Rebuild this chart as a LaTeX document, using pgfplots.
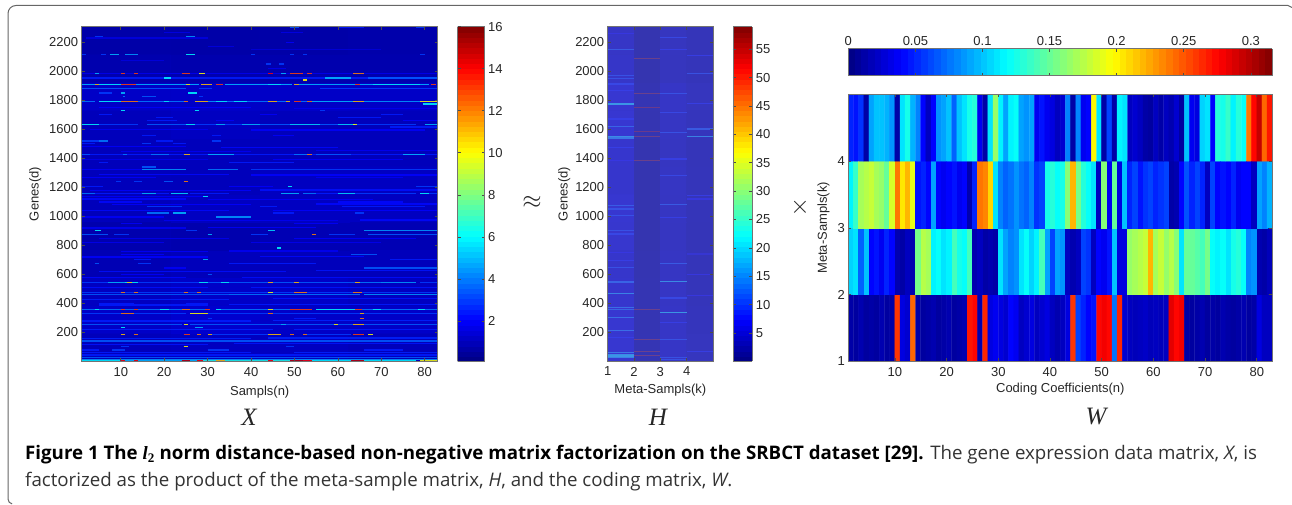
\documentclass[border=0pt]{standalone}
\usepackage{pgfplots}
\usepackage{fontspec}
\pgfplotsset{compat=1.18}
\setmainfont{Liberation Sans}
\newfontfamily\capfont{Open Sans}
\newfontfamily\serifit{Liberation Serif}
\pgfplotsset{
  colormap={fadedjet}{rgb(0cm)=(.2,.2,.56) rgb(1cm)=(.22,.22,.92) rgb(3cm)=(.25,.92,.92) rgb(5cm)=(.92,.92,.2) rgb(7cm)=(.92,.2,.2) rgb(8cm)=(.56,.2,.2)},
  every axis/.append style={
    /pgf/number format/assume math mode=true,
    /pgf/number format/1000 sep={},
    tick label style={font=\fontsize{13}{15}\selectfont,text=black!85},
    label style={font=\fontsize{13}{15}\selectfont,text=black!85},
    axis line style={draw=black!55,line width=.7pt},
    tick style={draw=black!70,line width=.6pt},
    tick align=inside, major tick length=3pt,
    xtick pos=both, ytick pos=both,
  },
  heat/.style={scale only axis,axis on top,
    colorbar shift/.style={xshift=19.5pt},
    xticklabel style={yshift=-2pt},
    yticklabel style={xshift=0pt}},
}
\begin{document}
\begin{tikzpicture}
\path[use as bounding box] (0pt,0pt) rectangle (1292pt,505pt);
\draw[black!60,line width=1pt] (1292pt,497.5pt) -- (1288pt,499.5pt) -- (16pt,499.5pt) arc[start angle=90,end angle=180,radius=8pt] -- (8pt,6pt) arc[start angle=180,end angle=260,radius=5pt];

%%%%%%%% X
\begin{axis}[heat,at={(81.7pt,143.6pt)},anchor=south west,width=356pt,height=334.8pt,
  colormap/jet,
  axis background/.style={fill={rgb,1:red,0;green,0;blue,.77}},
  xmin=1,xmax=83,ymin=1,ymax=2308,
  xtick={10,20,...,80},ytick={200,400,...,2200},
  xlabel shift=3pt,ylabel shift=1pt,
  xlabel={Sampls(n)},ylabel={Genes(d)},
  point meta min=0.08,point meta max=16,
  colorbar sampled,
  colorbar style={width=27pt,samples=65,ytick={2,4,...,16}},
]
\addplot[matrix plot*,mesh/cols=4,point meta=explicit] coordinates {
(11.25,97.1)[1.0](31.75,97.1)[1.1](52.25,97.1)[1.1](72.75,97.1)[1.0]
(11.25,289.4)[1.2](31.75,289.4)[1.3](52.25,289.4)[1.2](72.75,289.4)[1.2]
(11.25,481.6)[1.1](31.75,481.6)[1.2](52.25,481.6)[1.2](72.75,481.6)[1.1]
(11.25,673.9)[.9](31.75,673.9)[1.0](52.25,673.9)[1.0](72.75,673.9)[1.0]
(11.25,866.1)[.8](31.75,866.1)[.8](52.25,866.1)[.9](72.75,866.1)[.9]
(11.25,1058.4)[1.0](31.75,1058.4)[1.1](52.25,1058.4)[1.1](72.75,1058.4)[1.1]
(11.25,1250.6)[1.0](31.75,1250.6)[1.0](52.25,1250.6)[1.1](72.75,1250.6)[1.1]
(11.25,1442.9)[1.0](31.75,1442.9)[1.0](52.25,1442.9)[1.0](72.75,1442.9)[1.0]
(11.25,1635.1)[1.0](31.75,1635.1)[1.1](52.25,1635.1)[1.0](72.75,1635.1)[1.0]
(11.25,1827.4)[1.2](31.75,1827.4)[1.2](52.25,1827.4)[1.2](72.75,1827.4)[1.2]
(11.25,2019.6)[.8](31.75,2019.6)[.8](52.25,2019.6)[.8](72.75,2019.6)[.8]
(11.25,2211.9)[.7](31.75,2211.9)[.7](52.25,2211.9)[.7](72.75,2211.9)[.75]
};
\addplot[patch,patch type=line,shader=flat,line width=1.2pt,point meta=explicit,opacity=.85] coordinates {
(2,2230)[1.6](30,2230)[1.6] (40,2150)[1.5](70,2150)[1.5]
(5,1750)[2](40,1750)[2] (50,1745)[1.8](83,1745)[1.8]
(3,1600)[1.9](30,1600)[1.9] (40,1595)[2](80,1595)[2]
(1,1480)[2](25,1480)[2] (33,1475)[2.2](60,1475)[2.2]
(10,1450)[1.9](40,1450)[1.9] (55,1455)[1.9](83,1455)[1.9]
(1,1390)[1.8](30,1390)[1.8] (45,1392)[2](75,1392)[2]
(5,1290)[2.2](35,1290)[2.2] (40,1285)[2.1](83,1285)[2.1]
(1,1270)[2](18,1270)[2] (55,1268)[1.9](75,1268)[1.9]
(3,1180)[2.1](40,1180)[2.1] (42,1182)[2.3](83,1182)[2.3]
(1,1120)[2.2](25,1120)[2.2] (30,1118)[2](68,1118)[2]
(8,1080)[2.1](40,1080)[2.1] (55,1085)[2.2](83,1085)[2.2]
(1,1040)[2.2](35,1040)[2.2] (45,1042)[2.1](83,1042)[2.1]
(20,970)[1.9](60,970)[1.9] (65,975)[2.2](83,975)[2.2]
(1,920)[1.9](25,920)[1.9] (30,925)[2](55,925)[2]
(5,850)[1.8](35,850)[1.8] (50,848)[2](78,848)[2]
(1,820)[1.8](20,820)[1.8] (40,820)[1.8](70,820)[1.8]
(10,760)[2](30,760)[2] (35,762)[1.9](60,762)[1.9]
(1,720)[2.1](30,720)[2.1] (42,722)[2.2](66,722)[2.2]
(5,620)[2.3](48,620)[2.3] (55,625)[2.4](83,625)[2.4]
(1,580)[2.2](25,580)[2.2] (38,580)[2.3](83,580)[2.3]
(1,510)[2.3](30,510)[2.3] (40,512)[2.4](83,512)[2.4]
(1,430)[2.6](35,430)[2.6] (45,432)[2.4](83,432)[2.4]
(5,390)[2.5](30,390)[2.5] (35,392)[2.5](83,392)[2.5]
(1,280)[2.5](40,280)[2.5] (45,282)[2.6](83,282)[2.6]
(1,220)[2.6](45,220)[2.6] (50,222)[2.5](83,222)[2.5]
(1,160)[2.6](40,160)[2.6] (44,162)[2.6](83,162)[2.6]
(1,120)[2.4](30,120)[2.4] (36,122)[2.4](83,122)[2.4]
(1,60)[2.5](40,60)[2.5] (50,62)[2.6](83,62)[2.6]
(49,2305)[3.5](51,2305)[3.5] (60,2305)[2.5](66,2305)[2.5] (78,2305)[3](80,2305)[3]
(20,2270)[1.7](26,2270)[1.7] (47,2270)[1.7](52,2270)[1.7]
(4,2241)[3](6,2241)[3] (25,2241)[4.5](27,2241)[4.5]
(48,2200)[2](50,2200)[2] (30,2170)[1.6](36,2170)[1.6]
(1,2115)[3](2,2115)[3] (5.5,2115)[3](6.5,2115)[3] (7.5,2115)[5](9.5,2115)[5] (11,2115)[4.5](14,2115)[4.5] (25,2115)[6](27,2115)[6] (40,2115)[3](41,2115)[3] (49,2115)[3](50,2115)[3] (52,2115)[3](53,2115)[3] (79,2115)[3](80,2115)[3]
(10,2075)[1.6](20,2075)[1.6] (43.5,2050)[3](44.5,2050)[3] (46.5,2050)[3](47.5,2050)[3] (44,2020)[1.8](48,2020)[1.8]
(1,1985)[1.8](83,1985)[1.8] (4,1985)[5](5,1985)[5] (10,1985)[13](11,1985)[13] (13,1985)[13](14,1985)[13] (24,1985)[13](26,1985)[13] (28,1985)[10](29.5,1985)[10] (44,1985)[14](45,1985)[14] (47,1985)[5](48,1985)[5] (49,1985)[13](52,1985)[13] (53,1985)[13](54,1985)[13] (63.5,1985)[12](66,1985)[12]
(1,1954)[2.5](83,1954)[2.5] (20,1954)[6](21.5,1954)[6] (57,1954)[5](63,1954)[5] (67,1954)[3.5](83,1954)[3.5]
(52,1940)[10](53,1940)[10]
(1,1910)[5](4,1910)[5] (4,1910)[11](5,1910)[11] (5,1910)[6](10,1910)[6] (10,1910)[13](13.6,1910)[13] (13.6,1910)[5](25,1910)[5] (25,1910)[10](26,1910)[10] (26,1910)[5](28,1910)[5] (28.5,1910)[11](31,1910)[11] (32,1910)[13](33.5,1910)[13] (34,1910)[5](44,1910)[5] (44,1910)[6](47,1910)[6] (47,1910)[5](49.5,1910)[5] (50,1910)[11](51,1910)[11] (51,1910)[5](64,1910)[5] (64,1910)[13](65,1910)[13] (65,1910)[5](68,1910)[5] (68,1910)[6](75,1910)[6] (75,1910)[6](79,1910)[6] (79,1910)[5](81,1910)[5] (81.5,1910)[13](82.5,1910)[13]
(1,1881)[3.5](25,1881)[3.5] (28,1881)[3](31,1881)[3] (56,1881)[3](83,1881)[3]
(5,1850)[3](8,1850)[3] (10,1850)[5](11,1850)[5] (25.5,1850)[6](27.5,1850)[6]
(10.5,1827)[4](11,1827)[4] (15,1827)[3.5](18,1827)[3.5] (28,1827)[3](29,1827)[3]
(1,1793)[4](4,1793)[4] (5,1793)[6](10,1793)[6] (10,1793)[12](14,1793)[12] (14,1793)[4](20,1793)[4] (20,1793)[6](21,1793)[6] (21,1793)[4](24.5,1793)[4] (24.5,1793)[12](25.5,1793)[12] (27,1793)[11](30,1793)[11] (30,1793)[4.5](32,1793)[4.5] (32,1793)[6](34.5,1793)[6] (34.5,1793)[4](36,1793)[4] (36,1793)[6](39,1793)[6] (39,1793)[4](44,1793)[4] (44,1793)[11](46,1793)[11] (46,1793)[4](48,1793)[4] (48,1793)[11](49,1793)[11] (50,1793)[13](51.5,1793)[13] (51.5,1793)[4](53,1793)[4] (53,1793)[12](54,1793)[12] (54,1793)[5](63.5,1793)[5] (63.5,1793)[11](66,1793)[11] (66,1793)[4.5](79,1793)[4.5] (79,1793)[10](83,1793)[10]
(79.5,1775)[6](83,1775)[6] (10,1730)[6](11,1730)[6] (27,1730)[6](28,1730)[6] (56,1730)[3](57,1730)[3]
(5,1700)[2.5](8,1700)[2.5] (42,1700)[2](46,1700)[2] (70,1700)[2.5](75,1700)[2.5]
(18,1680)[2.5](22,1680)[2.5] (60,1680)[2.5](70,1680)[2.5]
(16,1660)[2.5](23,1660)[2.5] (32,1660)[2](36,1660)[2] (75,1660)[2](83,1660)[2]
(1,1632)[6](5,1632)[6] (5,1632)[3](14,1632)[3] (16,1632)[3.5](25,1632)[3.5] (25,1632)[6](27,1632)[6] (27,1632)[3](32,1632)[3] (32,1632)[5](34,1632)[5] (34,1632)[3](38,1632)[3] (38,1632)[5](42,1632)[5] (42,1632)[3.5](49,1632)[3.5] (49,1632)[5.5](56,1632)[5.5] (56,1632)[3.5](60,1632)[3.5] (60,1632)[5.5](64,1632)[5.5] (63.5,1632)[10](64.5,1632)[10] (64.5,1632)[3](78,1632)[3] (80,1632)[5](83,1632)[5]
(72,1616)[2.5](83,1616)[2.5]
(15,1560)[2.5](18,1560)[2.5] (31,1560)[2.5](33,1560)[2.5] (45,1560)[2](50,1560)[2]
(1,1520)[3](5,1520)[3] (5,1520)[4](7,1520)[4] (18,1520)[2.5](22,1520)[2.5] (31,1520)[3](33,1520)[3]
(1,1500)[2.5](4,1500)[2.5] (15,1500)[3](17,1500)[3] (22,1500)[2.5](25,1500)[2.5]
(1,1425)[2.5](83,1425)[2.5] (1,1425)[3.5](3,1425)[3.5] (10.5,1425)[4](11.5,1425)[4] (17,1425)[4](21,1425)[4] (24.5,1425)[11](26,1425)[11] (30,1425)[5](36,1425)[5] (50,1425)[4](53,1425)[4] (53,1425)[12](54,1425)[12] (55,1425)[3.5](63,1425)[3.5] (75,1425)[5](80,1425)[5]
(5,1370)[2.5](7,1370)[2.5] (35,1370)[2.5](50,1370)[2.5] (15,1340)[3.5](18,1340)[3.5]
(1,1321)[2](15,1321)[2] (15,1321)[4.5](25,1321)[4.5] (30,1321)[4](37,1321)[4] (40,1321)[3](83,1321)[3]
(9,1241)[3](10,1241)[3] (13,1241)[3](15,1241)[3] (20,1241)[3.5](22,1241)[3.5] (24.5,1241)[12](25.5,1241)[12]
(1,1206)[2.5](6,1206)[2.5] (35,1206)[2](45,1206)[2] (48.5,1206)[6](49.5,1206)[6] (78,1206)[3](83,1206)[3]
(1,1160)[4](4,1160)[4] (4,1160)[2.5](15,1160)[2.5] (15,1160)[5](18,1160)[5] (18,1160)[2.5](21,1160)[2.5] (21.5,1160)[5.5](25.5,1160)[5.5] (26,1160)[2.5](35,1160)[2.5] (47,1160)[5](51,1160)[5] (52,1160)[4](55,1160)[4] (55,1160)[2.5](60,1160)[2.5] (60,1160)[5.5](64,1160)[5.5] (64,1160)[3](78,1160)[3] (79,1160)[6](81,1160)[6] (81,1160)[3](83,1160)[3]
(1,1135)[2](29,1135)[2] (29,1135)[6](30,1135)[6]
(5,1100)[2.2](15,1100)[2.2] (60,1100)[2.2](75,1100)[2.2]
(16,1068)[3](24,1068)[3] (42,1068)[2.5](46,1068)[2.5] (61,1068)[2.5](80,1068)[2.5]
(16,1023)[4](21,1023)[4] (22,1023)[5](25,1023)[5] (45,1023)[2.5](50,1023)[2.5] (64,1023)[3](66,1023)[3]
(1,996)[2](20,996)[2] (32,996)[4.5](40,996)[4.5] (10,950)[2](15,950)[2] (50,950)[2](60,950)[2]
(4,904)[6](5.5,904)[6] (25,904)[3](27.5,904)[3] (44,904)[5.5](45.5,904)[5.5] (66,904)[4.5](83,904)[4.5]
(1,878)[3.5](7,878)[3.5] (8.5,878)[3](12,878)[3] (30,878)[5](31,878)[5] (40,878)[3](44,878)[3] (54,878)[12](55,878)[12] (58,878)[3](64,878)[3] (67,878)[3.5](83,878)[3.5]
(46,782)[6](47,782)[6] (10,740)[2](20,740)[2] (63,740)[3.5](69,740)[3.5]
(13,701)[2.5](17,701)[2.5] (29,701)[5](30,701)[5] (72,701)[2.5](83,701)[2.5]
(4,674)[3.5](5,674)[3.5] (14,674)[3](17,674)[3] (35,674)[2.5](55,674)[2.5]
(20,644)[2](25,644)[2] (66,644)[3.5](83,644)[3.5] (10,598)[2](20,598)[2] (30,598)[3.5](31,598)[3.5]
(1,545)[3](7,545)[3] (7,545)[5](11,545)[5] (11,545)[6](14,545)[6] (11.5,545)[11](12.5,545)[11] (14,545)[3](28,545)[3] (28,545)[6](30,545)[6] (30,545)[3.5](33,545)[3.5] (33,545)[6](35,545)[6] (35,545)[3.5](44,545)[3.5] (44,545)[11](45,545)[11] (45,545)[3.5](50,545)[3.5] (50,545)[11](51,545)[11] (51,545)[3.5](64,545)[3.5] (64,545)[11](65,545)[11] (65,545)[4](70,545)[4] (70,545)[4.5](78,545)[4.5] (79,545)[3](83,545)[3]
(1,476)[3](83,476)[3] (10,476)[12](11,476)[12] (13,476)[12](14,476)[12] (24.5,476)[12](25.5,476)[12] (27.5,476)[12](28.5,476)[12] (44,476)[10](45,476)[10] (50,476)[12](53,476)[12] (63.5,476)[12](65.5,476)[12]
(1,462)[3.5](35,462)[3.5] (35,462)[4](65,462)[4] (66,462)[4.5](83,462)[4.5]
(5,402)[2.5](13,402)[2.5] (25,402)[2.5](30,402)[2.5]
(1,361)[4](4,361)[4] (4,361)[6](5,361)[6] (5,361)[4](10,361)[4] (10,361)[13](11,361)[13] (11,361)[4](13,361)[4] (13,361)[13](14,361)[13] (14,361)[4](19,361)[4] (19,361)[6](21,361)[6] (21,361)[4](24,361)[4] (24,361)[12](26,361)[12] (26,361)[4](29.5,361)[4] (29.5,361)[13](30.5,361)[13] (32,361)[6](33,361)[6] (33,361)[4](44,361)[4] (44,361)[10](45,361)[10] (45,361)[4](49,361)[4] (49,361)[13](54,361)[13] (55,361)[6](64,361)[6] (64,361)[13](65.5,361)[13] (65.5,361)[4](68,361)[4] (68,361)[6](70,361)[6] (70,361)[4](79,361)[4] (78.5,361)[6](80,361)[6] (80,361)[4](83,361)[4]
(1,329)[3](10,329)[3] (10,329)[12](13,329)[12] (13,329)[3](25,329)[3] (26,329)[10](30,329)[10] (30,329)[3](44,329)[3] (44,329)[12](45,329)[12] (45,329)[3](65,329)[3] (65,329)[11](66,329)[11] (66,329)[3](83,329)[3]
(30,299)[3](31,299)[3] (50,299)[2.5](55,299)[2.5] (65,299)[12](66,299)[12]
(1,253)[3.5](24,253)[3.5] (24.5,253)[10](25.5,253)[10] (26,253)[3.5](47,253)[3.5] (47,253)[5](48,253)[5] (48,253)[3.5](59,253)[3.5] (59,253)[10](60,253)[10] (60,253)[3.5](63.5,253)[3.5] (63.5,253)[11](66,253)[11] (66,253)[3.5](83,253)[3.5]
(10,237)[6](11,237)[6] (27,237)[5](29,237)[5]
(10,188)[11](11,188)[11] (13,188)[12](14,188)[12] (24.5,188)[13](26,188)[13] (27.5,188)[12](28.5,188)[12] (30,188)[11](31,188)[11] (31,188)[3](44,188)[3] (44,188)[11](47,188)[11] (49,188)[12](50,188)[12] (52,188)[12](53,188)[12] (53,188)[3](63,188)[3] (63.5,188)[13](66,188)[13] (67,188)[10](68,188)[10]
(1,142)[3.5](83,142)[3.5]
(10,103)[3](12,103)[3] (24.5,103)[10](25.5,103)[10] (48,103)[3](50,103)[3]
(1,80)[2.5](5,80)[2.5] (8,80)[3](11,80)[3] (30,80)[3](35,80)[3] (66,80)[2.5](75,80)[2.5]
(1,45)[2.5](83,45)[2.5] (1,30)[3.5](83,30)[3.5] (1,16)[4.5](83,16)[4.5]
(1,6)[6](10,6)[6] (10,6)[14](11,6)[14] (11,6)[5](13,6)[5] (13,6)[14](14,6)[14] (14,6)[5](24,6)[5] (24,6)[15](26,6)[15] (26,6)[5](27.5,6)[5] (27.5,6)[14](29,6)[14] (29,6)[6.5](32,6)[6.5] (32,6)[11](34,6)[11] (34,6)[6.5](44,6)[6.5] (44,6)[14](45,6)[14] (45,6)[6.5](49,6)[6.5] (49,6)[15](52,6)[15] (52,6)[14](54,6)[14] (54,6)[6](63,6)[6] (63,6)[15](66,6)[15] (66,6)[6](78,6)[6] (79,6)[10](83,6)[10]
};
\end{axis}

%%%%%%%% H
\begin{axis}[heat,at={(607.7pt,143.6pt)},anchor=south west,width=105.3pt,height=334.8pt,
  colormap name=fadedjet,
  axis background/.style={fill={rgb,1:red,.21;green,.21;blue,.72}},
  xmin=1,xmax=5,ymin=1,ymax=2308,
  xtick={1,2,3,4},ytick={200,400,...,2200},
  xlabel shift=1pt,ylabel shift=-2pt,
  xlabel={Meta-Sampls(k)},ylabel={Genes(d)},
  point meta min=0,point meta max=59,
  colorbar sampled,
  colorbar style={width=19.6pt,samples=65,colormap/jet,ytick={5,10,...,55}},
]
\addplot[matrix plot*,mesh/cols=4,point meta=explicit] coordinates {
(1.5,97.1)[5.2](2.5,97.1)[3.0](3.5,97.1)[4.4](4.5,97.1)[3.8]
(1.5,289.4)[5.2](2.5,289.4)[2.9](3.5,289.4)[4.4](4.5,289.4)[3.6]
(1.5,481.6)[5.0](2.5,481.6)[2.9](3.5,481.6)[4.3](4.5,481.6)[3.5]
(1.5,673.9)[4.8](2.5,673.9)[2.8](3.5,673.9)[4.2](4.5,673.9)[3.4]
(1.5,866.1)[5.1](2.5,866.1)[2.7](3.5,866.1)[4.0](4.5,866.1)[3.3]
(1.5,1058.4)[5.2](2.5,1058.4)[2.7](3.5,1058.4)[4.1](4.5,1058.4)[3.4]
(1.5,1250.6)[4.9](2.5,1250.6)[2.7](3.5,1250.6)[4.2](4.5,1250.6)[3.5]
(1.5,1442.9)[5.0](2.5,1442.9)[2.7](3.5,1442.9)[4.0](4.5,1442.9)[3.4]
(1.5,1635.1)[5.3](2.5,1635.1)[2.8](3.5,1635.1)[4.2](4.5,1635.1)[3.6]
(1.5,1827.4)[5.3](2.5,1827.4)[2.9](3.5,1827.4)[4.4](4.5,1827.4)[3.8]
(1.5,2019.6)[4.6](2.5,2019.6)[2.7](3.5,2019.6)[3.8](4.5,2019.6)[3.5]
(1.5,2211.9)[4.4](2.5,2211.9)[2.7](3.5,2211.9)[3.9](4.5,2211.9)[3.4]
};
\addplot[patch,patch type=line,shader=flat,line width=1.3pt,point meta=explicit,opacity=.8] coordinates {
(1,2258)[7](2,2258)[7] (1,2150)[11](2,2150)[11] (1,1971)[10](2,1971)[10] (1,1948)[10](2,1948)[10] (1,1913)[9](2,1913)[9] (1,1867)[8](2,1867)[8] (1,1775)[17](2,1775)[17] (1,1672)[8](2,1672)[8] (1,1619)[12](2,1619)[12] (1,1550)[16](2,1550)[16] (1,1540)[14](2,1540)[14] (1,1476)[8](2,1476)[8] (1,1384)[7](2,1384)[7] (1,1074)[11](2,1074)[11] (1,1051)[10](2,1051)[10] (1,1005)[10](2,1005)[10] (1,901)[10](2,901)[10] (1,878)[9](2,878)[9] (1,752)[7](2,752)[7] (1,695)[8](2,695)[8] (1,648)[10](2,648)[10] (1,549)[12](2,549)[12] (1,469)[15](2,469)[15] (1,372)[13](2,372)[13] (1,361)[12](2,361)[12] (1,304)[13](2,304)[13] (1,212)[13](2,212)[13] (1,165)[8](2,165)[8] (1,62)[14](2,62)[14] (1,50)[16](2,50)[16] (1,38)[17](2,38)[17] (1,26)[15](2,26)[15]
(3,2231)[9](4,2231)[9] (3,2148)[8](4,2148)[8] (3,1845)[10](4,1845)[10] (3,1718)[9](4,1718)[9] (3,1580)[10](4,1580)[10] (3,1396)[8](4,1396)[8] (3,1281)[9](4,1281)[9] (3,1081)[11](4,1081)[11] (3,994)[8](4,994)[8] (3,676)[11](4,676)[11] (3,552)[16](4,552)[16] (3,437)[9](4,437)[9] (3,338)[17](4,338)[17] (3,269)[8](4,269)[8] (3,154)[10](4,154)[10] (3,30)[10](4,30)[10] (3,15)[10](4,15)[10]
(4,2109)[8](5,2109)[8] (4,1987)[10](5,1987)[10] (4,1780)[8](5,1780)[8] (4,1603)[11](5,1603)[11] (4,1552)[15](5,1552)[15] (4,1143)[8](5,1143)[8] (4,1120)[7](5,1120)[7] (4,740)[6](5,740)[6] (4,602)[7](5,602)[7] (4,453)[7](5,453)[7] (4,69)[8](5,69)[8]
};
\addplot[patch,patch type=line,shader=flat,line width=1.2pt,point meta=explicit,opacity=.3] coordinates {
(2,2086)[48](3,2086)[48] (2,1845)[48](3,1845)[48] (2,1752)[50](3,1752)[50] (2,1585)[50](3,1585)[50] (2,1550)[48](3,1550)[48] (2,1384)[48](3,1384)[48] (2,361)[48](3,361)[48] (2,154)[48](3,154)[48] (2,69)[48](3,69)[48] (2,39)[48](3,39)[48]
};
\end{axis}

%%%%%%%% W
\begin{axis}[heat,at={(848.3pt,143.6pt)},anchor=south west,width=424pt,height=267.1pt,
  colormap/jet,
  xmin=1,xmax=83,ymin=1,ymax=5,
  xtick={10,20,...,80},ytick={1,2,3,4},
  xlabel shift=0pt,ylabel shift=1pt,
  xlabel={Coding Coefficients(n)},ylabel={Meta-Sampls(k)},
  point meta min=0,point meta max=0.316,
  colorbar horizontal,colorbar sampled,
  colorbar shift/.style={yshift=18.6pt},
  colorbar style={at={(parent axis.north)},anchor=south,height=27pt,samples=65,
    xticklabel style={yshift=0pt},
    xticklabel pos=upper,xtick={0,0.05,0.1,0.15,0.2,0.25,0.3},
    xticklabels={0,0.05,0.1,0.15,0.2,0.25,0.3}},
]
\addplot[matrix plot*,mesh/cols=82,point meta=explicit] coordinates {
(1.5,1.5)[.012](2.5,1.5)[.01](3.5,1.5)[.015](4.5,1.5)[.01](5.5,1.5)[.012](6.5,1.5)[.01](7.5,1.5)[.015](8.5,1.5)[.01](9.5,1.5)[.012](10.5,1.5)[.26](11.5,1.5)[.03](12.5,1.5)[.025](13.5,1.5)[.245](14.5,1.5)[.012](15.5,1.5)[.01](16.5,1.5)[.012](17.5,1.5)[.015](18.5,1.5)[.01](19.5,1.5)[.012](20.5,1.5)[.015](21.5,1.5)[.01](22.5,1.5)[.012](23.5,1.5)[.015](24.5,1.5)[.27](25.5,1.5)[.275](26.5,1.5)[.015](27.5,1.5)[.265](28.5,1.5)[.03](29.5,1.5)[.035](30.5,1.5)[.03](31.5,1.5)[.025](32.5,1.5)[.04](33.5,1.5)[.035](34.5,1.5)[.02](35.5,1.5)[.025](36.5,1.5)[.03](37.5,1.5)[.02](38.5,1.5)[.025](39.5,1.5)[.03](40.5,1.5)[.02](41.5,1.5)[.015](42.5,1.5)[.02](43.5,1.5)[.03](44.5,1.5)[.26](45.5,1.5)[.06](46.5,1.5)[.05](47.5,1.5)[.04](48.5,1.5)[.045](49.5,1.5)[.275](50.5,1.5)[.28](51.5,1.5)[.275](52.5,1.5)[.075](53.5,1.5)[.265](54.5,1.5)[.025](55.5,1.5)[.02](56.5,1.5)[.018](57.5,1.5)[.02](58.5,1.5)[.022](59.5,1.5)[.018](60.5,1.5)[.02](61.5,1.5)[.018](62.5,1.5)[.02](63.5,1.5)[.285](64.5,1.5)[.275](65.5,1.5)[.28](66.5,1.5)[.012](67.5,1.5)[.01](68.5,1.5)[.012](69.5,1.5)[.015](70.5,1.5)[.01](71.5,1.5)[.012](72.5,1.5)[.01](73.5,1.5)[.015](74.5,1.5)[.012](75.5,1.5)[.01](76.5,1.5)[.012](77.5,1.5)[.015](78.5,1.5)[.01](79.5,1.5)[.012](80.5,1.5)[.03](81.5,1.5)[.02](82.5,1.5)[.02]
(1.5,2.5)[.105](2.5,2.5)[.11](3.5,2.5)[.07](4.5,2.5)[.1](5.5,2.5)[.04](6.5,2.5)[.045](7.5,2.5)[.035](8.5,2.5)[.05](9.5,2.5)[.04](10.5,2.5)[.015](11.5,2.5)[.012](12.5,2.5)[.02](13.5,2.5)[.015](14.5,2.5)[.155](15.5,2.5)[.175](16.5,2.5)[.17](17.5,2.5)[.115](18.5,2.5)[.12](19.5,2.5)[.11](20.5,2.5)[.115](21.5,2.5)[.14](22.5,2.5)[.125](23.5,2.5)[.12](24.5,2.5)[.14](25.5,2.5)[.015](26.5,2.5)[.02](27.5,2.5)[.012](28.5,2.5)[.015](29.5,2.5)[.012](30.5,2.5)[.11](31.5,2.5)[.09](32.5,2.5)[.08](33.5,2.5)[.085](34.5,2.5)[.11](35.5,2.5)[.12](36.5,2.5)[.105](37.5,2.5)[.115](38.5,2.5)[.14](39.5,2.5)[.09](40.5,2.5)[.06](41.5,2.5)[.09](42.5,2.5)[.085](43.5,2.5)[.02](44.5,2.5)[.015](45.5,2.5)[.02](46.5,2.5)[.06](47.5,2.5)[.055](48.5,2.5)[.02](49.5,2.5)[.04](50.5,2.5)[.035](51.5,2.5)[.045](52.5,2.5)[.1](53.5,2.5)[.03](54.5,2.5)[.03](55.5,2.5)[.165](56.5,2.5)[.17](57.5,2.5)[.175](58.5,2.5)[.18](59.5,2.5)[.22](60.5,2.5)[.17](61.5,2.5)[.18](62.5,2.5)[.165](63.5,2.5)[.175](64.5,2.5)[.16](65.5,2.5)[.11](66.5,2.5)[.15](67.5,2.5)[.15](68.5,2.5)[.145](69.5,2.5)[.14](70.5,2.5)[.155](71.5,2.5)[.12](72.5,2.5)[.115](73.5,2.5)[.12](74.5,2.5)[.11](75.5,2.5)[.125](76.5,2.5)[.13](77.5,2.5)[.12](78.5,2.5)[.08](79.5,2.5)[.085](80.5,2.5)[.015](81.5,2.5)[.012](82.5,2.5)[.018]
(1.5,3.5)[.115](2.5,3.5)[.135](3.5,3.5)[.17](4.5,3.5)[.175](5.5,3.5)[.18](6.5,3.5)[.17](7.5,3.5)[.165](8.5,3.5)[.15](9.5,3.5)[.185](10.5,3.5)[.24](11.5,3.5)[.205](12.5,3.5)[.22](13.5,3.5)[.19](14.5,3.5)[.045](15.5,3.5)[.05](16.5,3.5)[.04](17.5,3.5)[.09](18.5,3.5)[.04](19.5,3.5)[.035](20.5,3.5)[.04](21.5,3.5)[.045](22.5,3.5)[.035](23.5,3.5)[.04](24.5,3.5)[.015](25.5,3.5)[.05](26.5,3.5)[.24](27.5,3.5)[.235](28.5,3.5)[.21](29.5,3.5)[.11](30.5,3.5)[.08](31.5,3.5)[.07](32.5,3.5)[.075](33.5,3.5)[.085](34.5,3.5)[.075](35.5,3.5)[.07](36.5,3.5)[.08](37.5,3.5)[.055](38.5,3.5)[.06](39.5,3.5)[.125](40.5,3.5)[.13](41.5,3.5)[.12](42.5,3.5)[.125](43.5,3.5)[.16](44.5,3.5)[.22](45.5,3.5)[.155](46.5,3.5)[.13](47.5,3.5)[.12](48.5,3.5)[.11](49.5,3.5)[.02](50.5,3.5)[.16](51.5,3.5)[.035](52.5,3.5)[.15](53.5,3.5)[.03](54.5,3.5)[.1](55.5,3.5)[.05](56.5,3.5)[.06](57.5,3.5)[.045](58.5,3.5)[.055](59.5,3.5)[.06](60.5,3.5)[.05](61.5,3.5)[.055](62.5,3.5)[.06](63.5,3.5)[.012](64.5,3.5)[.015](65.5,3.5)[.04](66.5,3.5)[.065](67.5,3.5)[.05](68.5,3.5)[.06](69.5,3.5)[.05](70.5,3.5)[.02](71.5,3.5)[.06](72.5,3.5)[.04](73.5,3.5)[.045](74.5,3.5)[.04](75.5,3.5)[.05](76.5,3.5)[.035](77.5,3.5)[.04](78.5,3.5)[.04](79.5,3.5)[.02](80.5,3.5)[.09](81.5,3.5)[.08](82.5,3.5)[.095]
(1.5,4.5)[.05](2.5,4.5)[.045](3.5,4.5)[.055](4.5,4.5)[.012](5.5,4.5)[.09](6.5,4.5)[.1](7.5,4.5)[.1](8.5,4.5)[.095](9.5,4.5)[.085](10.5,4.5)[.012](11.5,4.5)[.11](12.5,4.5)[.125](13.5,4.5)[.095](14.5,4.5)[.08](15.5,4.5)[.04](16.5,4.5)[.02](17.5,4.5)[.04](18.5,4.5)[.085](19.5,4.5)[.09](20.5,4.5)[.1](21.5,4.5)[.07](22.5,4.5)[.1](23.5,4.5)[.11](24.5,4.5)[.125](25.5,4.5)[.13](26.5,4.5)[.035](27.5,4.5)[.012](28.5,4.5)[.11](29.5,4.5)[.165](30.5,4.5)[.115](31.5,4.5)[.09](32.5,4.5)[.115](33.5,4.5)[.12](34.5,4.5)[.09](35.5,4.5)[.085](36.5,4.5)[.09](37.5,4.5)[.035](38.5,4.5)[.045](39.5,4.5)[.035](40.5,4.5)[.03](41.5,4.5)[.02](42.5,4.5)[.025](43.5,4.5)[.08](44.5,4.5)[.012](45.5,4.5)[.08](46.5,4.5)[.035](47.5,4.5)[.04](48.5,4.5)[.2](49.5,4.5)[.11](50.5,4.5)[.012](51.5,4.5)[.06](52.5,4.5)[.012](53.5,4.5)[.115](54.5,4.5)[.11](55.5,4.5)[.02](56.5,4.5)[.025](57.5,4.5)[.02](58.5,4.5)[.012](59.5,4.5)[.01](60.5,4.5)[.02](61.5,4.5)[.012](62.5,4.5)[.02](63.5,4.5)[.015](64.5,4.5)[.025](65.5,4.5)[.01](66.5,4.5)[.1](67.5,4.5)[.035](68.5,4.5)[.03](69.5,4.5)[.105](70.5,4.5)[.11](71.5,4.5)[.04](72.5,4.5)[.13](73.5,4.5)[.125](74.5,4.5)[.135](75.5,4.5)[.115](76.5,4.5)[.13](77.5,4.5)[.12](78.5,4.5)[.24](79.5,4.5)[.275](80.5,4.5)[.295](81.5,4.5)[.245](82.5,4.5)[.27]
};
\end{axis}

%%%%%%%% symbols and caption
\node[font=\serifit\itshape\fontsize{25}{25}\selectfont,text=black!85] at (249pt,88pt) {X};
\node[font=\serifit\itshape\fontsize{25}{25}\selectfont,text=black!85] at (658pt,88pt) {H};
\node[font=\serifit\itshape\fontsize{25}{25}\selectfont,text=black!85] at (1096pt,88pt) {W};
\node[font=\fontsize{32}{32}\selectfont,text=black!85] at (532pt,303pt) {$\approx$};
\node[font=\fontsize{30}{30}\selectfont,text=black!85] at (800pt,298pt) {$\times$};
\node[anchor=base west,font=\capfont\fontsize{18.7}{22}\selectfont,inner sep=0pt,text=black] at (25pt,45pt)
  {\textbf{Figure 1 The {\serifit\itshape l}\textsubscript{\serifit 2} norm distance-based non-negative matrix factorization on the SRBCT dataset [29].} \textcolor{black!80}{The gene expression data matrix, \textit{X}, is}};
\node[anchor=base west,font=\capfont\fontsize{18.7}{22}\selectfont,inner sep=0pt,text=black!80] at (25pt,18.5pt)
  {factorized as the product of the meta-sample matrix, \textit{H}, and the coding matrix, \textit{W}.};
\end{tikzpicture}
\end{document}
